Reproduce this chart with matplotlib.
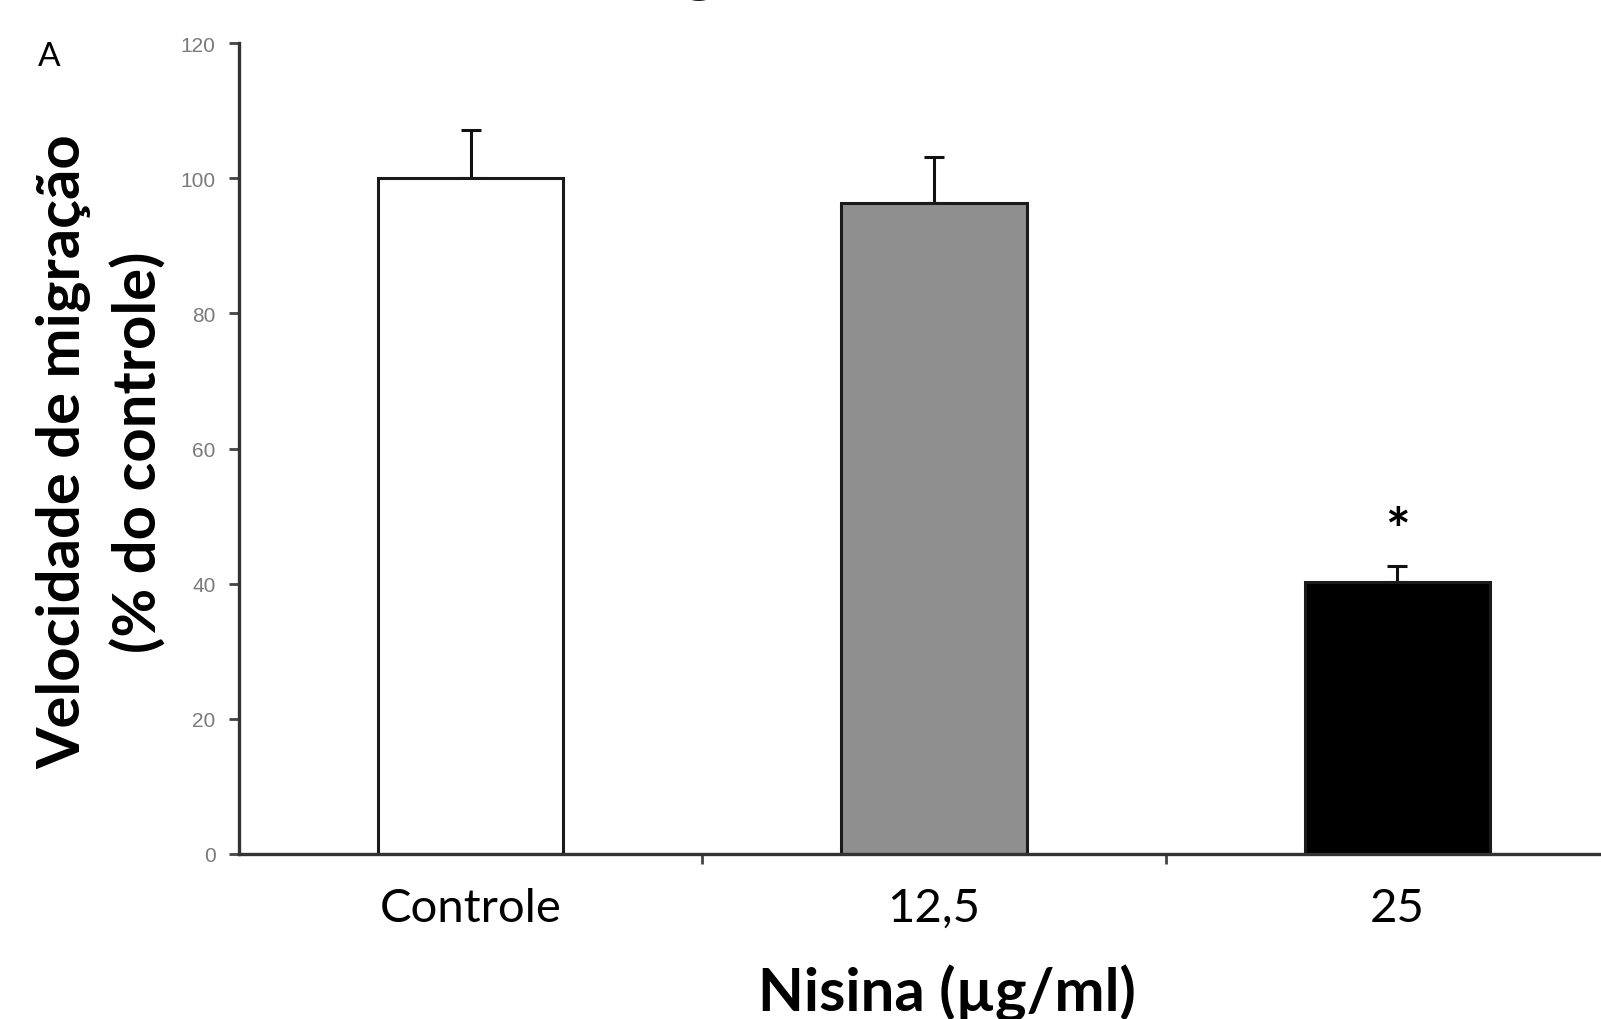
import matplotlib
matplotlib.use("Agg")
import matplotlib.pyplot as plt
import numpy as np

categories = ["Controle", "12,5", "25"]
values = [100.0, 96.3, 40.3]
errors = [7.1, 6.8, 2.3]
colors = ["white", "#8f8f8f", "black"]
yticks = [0, 20, 40, 60, 80, 100, 120]

plt.rcParams['font.family'] = ['Lato', 'DejaVu Sans']

fig = plt.figure(figsize=(16.01, 10.20), dpi=100)
W, H = 1601, 1020
ax = fig.add_axes([239 / W, 1 - 855 / H, (W - 239) / W, (855 - 44) / H])

x = np.arange(len(categories))
ax.bar(x, values, width=0.4, color=colors, edgecolor="#1a1a1a", linewidth=2.2, zorder=2)
ax.errorbar(x, values, yerr=[[0, 0, 0], errors], fmt="none", ecolor="#111111",
            elinewidth=2.2, capsize=7, capthick=2.2, zorder=1)
ax.text(x[2], 47.5, "*", ha="center", va="center", fontsize=42, fontweight="bold")

ax.set_xlim(-0.5, 2.44)
ax.set_ylim(0, 120)
ax.set_yticks(yticks)
ax.set_yticklabels([str(t) for t in yticks], fontsize=15, color="#7a7a7a",
                   family=["Liberation Sans", "DejaVu Sans"])
ax.tick_params(axis="y", length=7, width=2, color="#444444", pad=10)

ax.set_xticks([0.5, 1.5])
ax.set_xticklabels(["", ""])
ax.tick_params(axis="x", length=7, width=2, color="#444444", direction="out")
for xi, lab in zip(x, categories):
    ax.text(xi, -8, lab, ha="center", va="center", fontsize=34,
            transform=ax.transData, clip_on=False)

for s in ["top", "right"]:
    ax.spines[s].set_visible(False)
for s in ["left", "bottom"]:
    ax.spines[s].set_linewidth(2.4)
    ax.spines[s].set_color("#333333")

fig.text(947 / W, 1 - 993 / H, "Nisina (\u00b5g/ml)", ha="center", va="center",
         fontsize=43, fontweight="bold")
fig.text(64 / W, 1 - 452 / H, "Velocidade de migração", rotation=90,
         ha="center", va="center", fontsize=43, fontweight="bold")
fig.text(139 / W, 1 - 452 / H, "(% do controle)", rotation=90,
         ha="center", va="center", fontsize=43, fontweight="bold")
fig.text(49 / W, 1 - 57 / H, "A", ha="center", va="center", fontsize=24)

# title cut off at the top edge, only descenders show
fig.text(745 / W, 1 + 15 / H, "Migração", ha="center", va="baseline",
         fontsize=52, fontweight="bold")

fig.savefig("out.png", dpi=100)
